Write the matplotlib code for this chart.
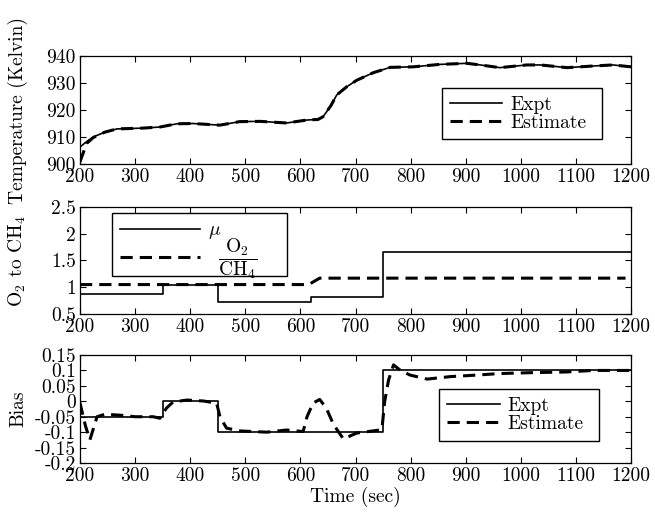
"""
Temperature, O2/CH4 ratio and bias estimation - three stacked panels
"""
import matplotlib
matplotlib.use('Agg')
import matplotlib.pyplot as plt
from matplotlib.ticker import FuncFormatter, MultipleLocator

# Temperature panel (Kelvin)
temp_t = [200, 212, 224, 245, 267, 314, 345, 376, 405, 454, 490, 527, 575, 612, 632,
          641, 655, 666, 684, 702, 732, 763, 805, 853, 902, 926, 962, 1011, 1035,
          1084, 1131, 1167, 1200]
temp_expt = [906.3, 908.3, 910.0, 911.8, 913.0, 913.3, 913.7, 914.9, 915.0, 914.4,
             915.7, 915.8, 915.2, 916.3, 916.5, 917.5, 921.5, 925.6, 928.6, 931.0,
             933.8, 935.8, 936.0, 936.9, 937.3, 936.7, 935.7, 936.7, 936.7, 935.7,
             936.3, 936.7, 936.0]
temp_est = [900.8, 907.6, 909.8, 911.8, 913.0, 913.3, 913.7, 914.9, 915.0, 914.4,
            915.7, 915.8, 915.2, 916.3, 916.5, 917.5, 921.5, 925.6, 928.6, 931.0,
            933.8, 935.8, 936.0, 936.9, 937.3, 936.7, 935.7, 936.7, 936.7, 935.7,
            936.3, 936.7, 936.0]

# O2 to CH4 panel
mu_t = [200, 350, 450, 620, 750, 1200]
mu_vals = [0.88, 1.05, 0.72, 0.82, 1.65, 1.65]
ratio_t = [200, 615, 635, 1190]
ratio_vals = [1.05, 1.05, 1.17, 1.17]

# Bias panel
bias_t = [200, 350, 450, 750, 1200]
bias_expt = [-0.05, 0.0, -0.1, 0.1, 0.1]
bias_est_t = [200, 210, 218, 231, 245, 273, 300, 333, 345, 357, 369, 394, 424, 448,
              454, 466, 490, 539, 575, 605, 612, 623, 635, 647, 660, 678, 702, 744,
              748, 753, 760, 769, 781, 799, 830, 872, 920, 962, 1022, 1082, 1131, 1200]
bias_est = [-0.005, -0.08, -0.125, -0.05, -0.042, -0.045, -0.05, -0.05, -0.055, -0.022,
            -0.002, 0.004, 0.001, -0.006, -0.05, -0.087, -0.096, -0.1, -0.093, -0.098,
            -0.05, -0.006, 0.006, -0.022, -0.075, -0.122, -0.103, -0.093, -0.09, 0.0,
            0.069, 0.118, 0.101, 0.085, 0.072, 0.08, 0.085, 0.09, 0.093, 0.095, 0.1, 0.1]

xticks = list(range(200, 1201, 100))

plt.rcParams['font.family'] = 'serif'
plt.rcParams['font.serif'] = ['cmr10']
plt.rcParams['mathtext.fontset'] = 'cm'
plt.rcParams['axes.unicode_minus'] = False
plt.rcParams['font.size'] = 14

fig = plt.figure(figsize=(6.55, 5.14), dpi=100)
left, width = 0.1221, 0.8413
ax1 = fig.add_axes([left, 0.6809, width, 0.2101])
ax2 = fig.add_axes([left, 0.3891, width, 0.2082])
ax3 = fig.add_axes([left, 0.0992, width, 0.2101])

dash = (0, (4, 2.3))
gfmt = FuncFormatter(lambda v, p: ('%g' % round(v, 4)))
leg_kw = dict(loc='upper left', mode='expand', borderaxespad=0, fancybox=False,
              edgecolor='k', framealpha=1, handletextpad=0.4, fontsize=14)

# top panel
ax1.plot(temp_t, temp_expt, color='k', lw=1.2, label='Expt')
ax1.plot(temp_t, temp_est, color='k', lw=2.2, linestyle=dash, label='Estimate')
ax1.set_ylim(900, 940)
ax1.yaxis.set_major_locator(MultipleLocator(10))
ax1.set_ylabel('Temperature (Kelvin)')
ax1.legend(bbox_to_anchor=(0.657, 0.204, 0.290, 0.5), handlelength=2.7,
           labelspacing=0.0, borderpad=0.4, **leg_kw)

# middle panel
l_mu, = ax2.step(mu_t, mu_vals, where='post', color='k', lw=1.2)
l_ratio, = ax2.plot(ratio_t, ratio_vals, color='k', lw=2.2, linestyle=dash)
ax2.set_ylim(0.5, 2.5)
ax2.yaxis.set_major_locator(MultipleLocator(0.5))
ax2.set_ylabel(r'O$_2$ to CH$_4$')
ax2.legend([l_mu, l_ratio], [r'$\mu$', ' '],
           bbox_to_anchor=(0.058, 0.444, 0.318, 0.5), handlelength=4.1,
           labelspacing=0.41, borderpad=0.44, **leg_kw)
# the fraction label spills out of the legend box, as in the original
ax2.text(0.287, 0.515, r'$\dfrac{\mathrm{O_2}}{\mathrm{CH_4}}$', transform=ax2.transAxes,
         ha='center', va='center', fontsize=14, zorder=10)

# bottom panel
ax3.step(bias_t, bias_expt, where='post', color='k', lw=1.2, label='Expt')
ax3.plot(bias_est_t, bias_est, color='k', lw=2.2, linestyle=dash, label='Estimate')
ax3.set_ylim(-0.2, 0.15)
ax3.yaxis.set_major_locator(MultipleLocator(0.05))
ax3.set_ylabel('Bias')
ax3.set_xlabel('Time (sec)', labelpad=1)
ax3.legend(bbox_to_anchor=(0.652, 0.185, 0.290, 0.5), handlelength=2.7,
           labelspacing=0.0, borderpad=0.4, **leg_kw)

for ax in (ax1, ax2, ax3):
    ax.set_xlim(200, 1200)
    ax.set_xticks(xticks)
    ax.yaxis.set_major_formatter(gfmt)
    ax.tick_params(direction='in', top=True, right=True, length=4, width=0.8,
                   labelsize=14)
    ax.tick_params(axis='x', pad=3)
    ax.tick_params(axis='y', pad=3)
    ax.yaxis.set_label_coords(-0.095, 0.5)
    for s in ax.spines.values():
        s.set_linewidth(0.9)

plt.savefig('out.png', dpi=100)
